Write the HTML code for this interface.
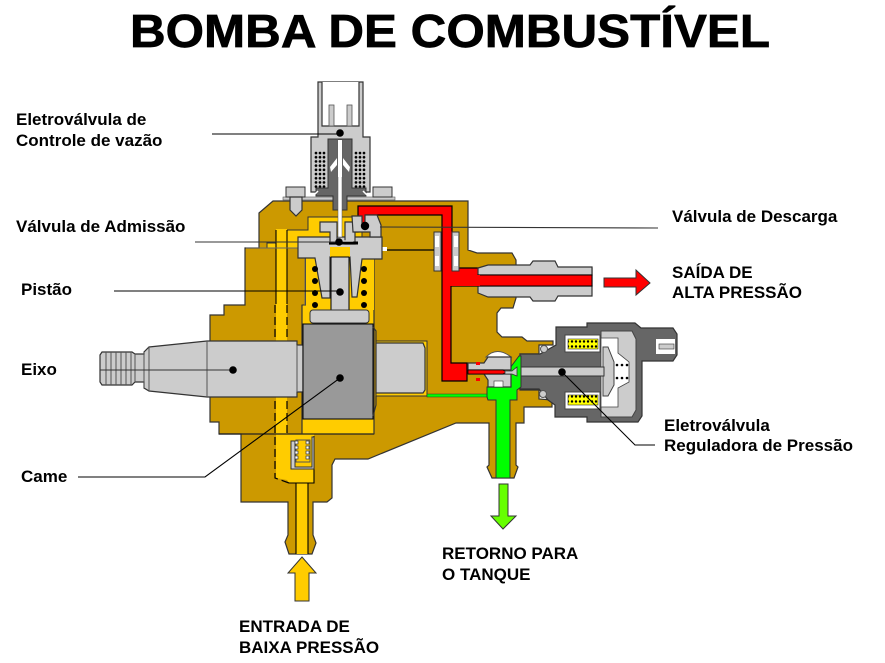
<!DOCTYPE html>
<html><head><meta charset="utf-8"><style>
html,body{margin:0;padding:0;background:#fff}
svg{display:block}
text{font-family:"Liberation Sans",Arial,sans-serif;font-weight:bold;fill:#000}
.l{font-size:17px}
.s{stroke:#333;stroke-width:1.2}
.k{stroke:#000;stroke-width:1.2;fill:none}
</style></head><body>
<svg width="885" height="663" viewBox="0 0 885 663" xmlns="http://www.w3.org/2000/svg">
<defs>
<pattern id="dots" x="314" y="151" width="4" height="4.2" patternUnits="userSpaceOnUse"><rect width="4" height="4.2" fill="#ccc"/><circle cx="2" cy="2" r="1.35" fill="#000"/></pattern>
<pattern id="ydots" x="570" y="339" width="4" height="5" patternUnits="userSpaceOnUse"><rect width="4" height="5" fill="#ff0"/><circle cx="2" cy="2.5" r="1.2" fill="#000"/></pattern>
</defs>
<text x="130" y="47" font-size="46" textLength="640" lengthAdjust="spacingAndGlyphs" stroke="#000" stroke-width=".7">BOMBA DE COMBUSTÍVEL</text>

<!-- body -->
<path class="s" fill="#cc9900" d="M259 213L273 201H468V250L477 253H512L516 260V298L513 308H501L497 313V332L502 337H522L527 341H553V345H539V354H520V390H539V399L552 400V407H524V423H516V465L518 467L514 478H492L487 467L489 465V423H456L368 459H335L332 465V498L327 502H313V535L316 543L312 554H289L285 542L288 535V502H241V434H219V422H210V315H224V305H245V248H259Z"/>
<!-- yellow low-pressure -->
<path fill="#ffcc00" stroke="#333" stroke-width="1" d="M277 230H308V217H353V224H362V237H382V258H374V434H302V305H306V258H298V248H267V243H277Z"/>
<path fill="#ffcc00" d="M276 229H287V478L290 483H314V436H290V434H287V478H276Z"/>
<path fill="#ffcc00" d="M276 305H287V480L276 478Z"/>
<path fill="#ffcc00" d="M287 434H314V483H289L287 480Z"/>
<path fill="#ffcc00" d="M296 480H308V554H296Z"/>
<path d="M276 230V304M287 230V304" stroke="#000" stroke-width="1.1"/>
<path d="M275 305V478L289 483M287 305V434" stroke="#000" stroke-width="1.2" stroke-dasharray="8 4" fill="none"/>
<path d="M296 483V554M308 483V554M314 436V483H289" stroke="#000" stroke-width="1.1" fill="none"/>
<!-- housing block edge -->
<path d="M246 248H305V305" stroke="#666" stroke-width="1" fill="none"/>
<path d="M219 434H374" stroke="#222" stroke-width="1.2" fill="none"/>
<path d="M302 305V434M374 258V434" stroke="#333" stroke-width="1.2" fill="none"/>
<!-- low pressure check -->
<path fill="#ccc" stroke="#333" d="M291 441H295V467H312V437H314V469H291Z"/>
<path fill="#ffcc00" stroke="#555" d="M296 440H310V462H296Z"/>
<g fill="#fff" stroke="#333" stroke-width=".7"><rect x="295" y="441" width="3" height="3"/><rect x="295" y="446" width="3" height="3"/><rect x="295" y="451" width="3" height="3"/><rect x="295" y="456" width="3" height="3"/><rect x="306" y="441" width="3" height="3"/><rect x="306" y="446" width="3" height="3"/><rect x="306" y="451" width="3" height="3"/><rect x="306" y="456" width="3" height="3"/></g>

<!-- red passages -->
<path stroke="#000" stroke-width="1.2" style="fill:#f00" d="M358 206H452V268H592V286H451V363H467V381H442V215H366V224H358Z"/>
<path fill="#f00" d="M357 218H373V228H357Z"/>
<!-- outlet fitting -->
<path class="s" fill="#ccc" d="M478 268L488 265H530L533 261H555L558 267H592V275H478Z"/>
<path class="s" fill="#ccc" d="M478 293L488 297H530L533 301H555L558 296H592V286H478Z"/>
<path fill="#f00" stroke="#000" d="M478 275H592V286H478Z"/>
<path fill="#f00" d="M443 275H480V286H443Z"/>
<!-- check valve -->
<g fill="#ccc" stroke="#333"><path d="M434 232H441V271H434Z"/><path d="M452 232H459V271H452Z"/></g>
<g fill="#fff"><rect x="435" y="236" width="4" height="11"/><rect x="435" y="256" width="4" height="10"/><rect x="454" y="236" width="4" height="11"/><rect x="454" y="256" width="4" height="10"/></g>
<path d="M434 250H383" stroke="#000" stroke-width="1.2"/>
<rect x="382" y="247" width="5" height="4" fill="#fff"/>

<!-- arrow red -->
<path fill="#f00" stroke="#333" d="M604 278H636V270L650 283L636 295V287H604Z"/>

<!-- shaft -->
<path class="s" fill="#ccc" d="M100 355L102 352H132L135 354H144V352L149 347L207 341H297V345H303V392H297V397H207L149 391L144 388V382H135L132 385H102L100 382Z"/>
<path fill="none" stroke="#555" stroke-width="1" d="M207 341V397M297 345V392M106 352V385M111 352V385M116 352V385M121 352V385M126 352V385M131 352V385M135 354V382M144 352V388M149 347V391"/>
<rect x="376" y="341" width="51" height="55" fill="#ffcc00" stroke="#333"/>
<path fill="#ccc" stroke="#333" stroke-width="1.2" d="M376 343H423L425 348V390L423 393H376Z"/>
<rect x="303" y="324" width="70" height="95" fill="#999" stroke="#000" stroke-width="1"/>
<path d="M373 327L376 331V342M373 416L376 405V396" class="s" fill="none"/>

<!-- pump piston -->
<path fill="#ffcc00" d="M306 258H374V310H306Z"/>
<path class="s" fill="#ccc" d="M298 237H382V259H362L357 297H352L350 257H330V298H322L315 258H298Z"/>
<path fill="#ffcc00" d="M330 247H350V257H330Z"/>
<rect x="331" y="257" width="18" height="56" fill="#ccc" stroke="#000"/>
<rect x="310" y="310" width="59" height="13" rx="3" fill="#ccc" stroke="#333"/>
<g fill="#000"><circle cx="315" cy="269" r="3"/><circle cx="315" cy="281" r="3"/><circle cx="315" cy="293" r="3"/><circle cx="315" cy="305" r="3"/><circle cx="364" cy="269" r="3"/><circle cx="364" cy="281" r="3"/><circle cx="364" cy="293" r="3"/><circle cx="364" cy="305" r="3"/></g>
<!-- valve head -->
<path class="s" fill="#ccc" d="M320 222H337V244H330V232H320Z"/>
<path class="s" fill="#ccc" d="M345 222H358V232H355V244H345Z"/>
<path class="s" fill="#ccc" d="M352 216H362V224H365V215H377L381 225V237H370V232H353Z"/>
<path d="M329 243H358" stroke="#000" stroke-width="3"/>
<path d="M331 241H353" stroke="#ccc" stroke-width="1.5"/>

<!-- plate + bolts -->
<rect x="283" y="197" width="112" height="3" fill="#ccc" stroke="#555" stroke-width=".6"/>
<rect x="286" y="187" width="19" height="10" fill="#ccc" stroke="#333"/>
<path class="s" fill="#ccc" d="M290 197H302V210L296 216L290 210Z"/>
<rect x="373" y="187" width="19" height="10" fill="#ccc" stroke="#333"/>
<!-- solenoid -->
<path class="s" fill="#ccc" d="M318 82H363V137H370V192H311V137H318Z"/>
<rect x="322" y="82" width="37" height="44" fill="#fff"/>
<path d="M322 82V126H359V82" fill="none" stroke="#333" stroke-width="1.2"/>
<rect x="329" y="105" width="5" height="21" fill="#ccc" stroke="#555" stroke-width=".8"/>
<rect x="347" y="105" width="5" height="21" fill="#ccc" stroke="#555" stroke-width=".8"/>
<rect x="314" y="151" width="12" height="38" fill="url(#dots)"/>
<rect x="354" y="151" width="12" height="38" fill="url(#dots)"/>
<path fill="#666" stroke="#333" d="M328 139H352V188H366V196H347V210H333V196H316V188H328Z"/>
<path d="M338 140H342V237H338Z" fill="#fff" stroke="#555" stroke-width=".5"/>
<path d="M330 167L337 158V165L331 172ZM350 167L343 158V165L349 172Z" fill="#fff"/>
<path d="M338 140H342V177H338Z" fill="#fff"/>
<path d="M313 196L318 191M368 196L363 191" stroke="#fff" stroke-width="1.5"/>

<!-- regulator -->
<path class="s" fill="#666" d="M556 327H587V323H635L641 328H673L677 334V355L673 361H642V416L638 422H587V417H555V405L548 400L539 389H520V354H540L556 345Z"/>
<path fill="#ccc" stroke="#444" d="M601 331H632L636 339V410L632 417H601Z"/>
<path fill="#fff" stroke="#444" stroke-width=".8" d="M601 338H618V353L629 362V382L618 388V407H601Z"/>
<path fill="#ccc" stroke="#444" d="M603 347H608L614 362V385L608 396H603Z"/>
<g fill="#000"><circle cx="617" cy="365" r="1.3"/><circle cx="622" cy="365" r="1.3"/><circle cx="627" cy="365" r="1.3"/><circle cx="617" cy="378" r="1.3"/><circle cx="622" cy="378" r="1.3"/><circle cx="627" cy="378" r="1.3"/></g>
<rect x="517" y="367" width="87" height="9" fill="#ccc" stroke="#333"/>
<path fill="#fff" stroke="#444" d="M565 335H600V352H565ZM565 392H600V409H565Z"/>
<rect x="568" y="339" width="30" height="10" fill="url(#ydots)" stroke="#333" stroke-width=".6"/>
<rect x="568" y="395" width="30" height="10" fill="url(#ydots)" stroke="#333" stroke-width=".6"/>
<rect x="656" y="339" width="19" height="15" fill="#fff"/>
<rect x="659" y="344" width="15" height="5" fill="#ccc" stroke="#333" stroke-width=".6"/>
<circle cx="544" cy="349" r="3.5" fill="#ccc" stroke="#555"/>
<circle cx="543" cy="394" r="3.5" fill="#ccc" stroke="#555"/>

<!-- green -->
<path stroke="#333" stroke-width=".6" style="fill:#0f0" d="M427 394H487V397H427Z"/>
<path stroke="#333" stroke-width="1" style="fill:#0f0" d="M487 387H510V368L519 356H521V387L517 390V400H510V478H496V400H488L487 397Z"/>
<!-- return valve -->
<path d="M486 357Q497 346 511 357Z" fill="#fff" stroke="#555"/>
<path class="s" fill="#ccc" d="M468 363H484L488 357H511V370H468Z"/>
<path class="s" fill="#ccc" d="M468 374H484L488 380V387H511V374Z"/>
<path d="M468 370H503L507 372L503 374H468Z" fill="#f00" stroke="#000" stroke-width=".8"/>
<rect x="494" y="381" width="9" height="6" fill="#fff" stroke="#333" stroke-width=".6"/>
<path d="M476 362H480V365H476ZM476 378H480V381H476Z" fill="#f00"/>
<path d="M505 371H512L517 367V376L512 374H505Z" fill="#ccc" stroke="#333" stroke-width=".8"/>

<!-- bottom arrows -->
<path fill="#66ff00" stroke="#333" d="M499 484H508V516H516L503 529L491 516H499Z"/>
<path fill="#ffcc00" stroke="#333" d="M302 557L316 573H309V601H295V573H288Z"/>

<!-- leaders -->
<g stroke="#000" stroke-width="1.1" fill="none">
<path d="M212 134H340"/><path d="M195 242H339" stroke="#333"/>
<path d="M380 227L658 228" stroke="#333"/><path d="M114 291H340"/>
<path d="M100 370H233" stroke="#333"/><path d="M78 477H205L340 378"/>
<path d="M562 372L635 445H655"/>
</g>
<g fill="#000"><circle cx="340" cy="133" r="3.8"/><circle cx="339" cy="242" r="3.8"/><circle cx="365" cy="226" r="4.2"/><circle cx="340" cy="292" r="3.8"/><circle cx="233" cy="370" r="3.8"/><circle cx="340" cy="378" r="3.8"/><circle cx="562" cy="372" r="3.8"/></g>

<!-- labels -->
<text class="l" x="16" y="125">Eletroválvula de</text>
<text class="l" x="16" y="146">Controle de vazão</text>
<text class="l" x="16" y="232">Válvula de Admissão</text>
<text class="l" x="21" y="295">Pistão</text>
<text class="l" x="21" y="375">Eixo</text>
<text class="l" x="21" y="482">Came</text>
<text class="l" x="672" y="222">Válvula de Descarga</text>
<text class="l" x="672" y="278">SAÍDA DE</text>
<text class="l" x="672" y="298">ALTA PRESSÃO</text>
<text class="l" x="664" y="431">Eletroválvula</text>
<text class="l" x="664" y="451">Reguladora de Pressão</text>
<text class="l" x="442" y="559">RETORNO PARA</text>
<text class="l" x="442" y="580">O TANQUE</text>
<text class="l" x="239" y="632">ENTRADA DE</text>
<text class="l" x="239" y="653">BAIXA PRESSÃO</text>
</svg>
</body></html>
